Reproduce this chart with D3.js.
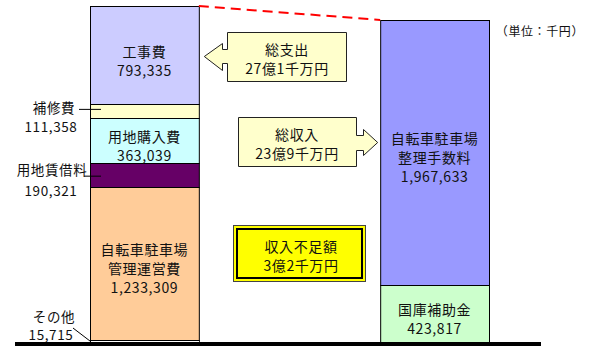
<!DOCTYPE html>
<html>
<head>
<meta charset="utf-8">
<script src="https://cdn.jsdelivr.net/npm/d3@7"></script>
<style>
body{margin:0;background:#fff}
svg{display:block;font-family:"Noto Sans CJK JP",sans-serif}
svg text{letter-spacing:0.6px}
</style>
</head>
<body>
<div id="chart"></div>
<script>
// 支出（左）と収入（右）, 単位: 千円, 下から順に積む
var spendCats = ['その他', '自転車駐車場\n管理運営費', '用地賃借料', '用地購入費', '補修費', '工事費']
var spendValues = [15715, 1233309, 190321, 363039, 111358, 793335]
var spendColors = ['#ffffff', '#ffcc99', '#660066', '#ccffff', '#ffffcc', '#ccccff']
var spendInside = [false, true, false, true, false, true]

var incomeCats = ['国庫補助金', '自転車駐車場\n整理手数料']
var incomeValues = [423817, 1967633]
var incomeColors = ['#ccffcc', '#9999ff']

var unitLabel = '（単位：千円）'

var W = 591, H = 346, base = 342
var svg = d3.select('#chart').append('svg').attr('width', W).attr('height', H)

var fmt = d3.format(',')
function okuText(v){
	// 千円 -> ○億○千万円
	var oku = Math.floor(v / 100000)
	var sen = Math.round((v % 100000) / 10000)
	return oku + '億' + sen + '千万円'
}

function stack(vals){
	var acc = 0
	return vals.map(function(v){ var d = {y0: acc, y1: acc + v}; acc += v; return d })
}

var spendTotal = d3.sum(spendValues), incomeTotal = d3.sum(incomeValues)
var ySpend = d3.scaleLinear().domain([0, spendTotal]).range([base, 6])
var yIncome = d3.scaleLinear().domain([0, incomeTotal]).range([base, 20])
var x = d3.scaleBand().domain(['spend', 'income']).range([90, 489]).paddingInner(0.625).paddingOuter(0)

function drawBar(key, cats, vals, colors, y){
	var st = stack(vals)
	var g = svg.append('g').attr('class', key)
	g.selectAll('rect').data(st).enter().append('rect')
		.attr('x', x(key) + 0.5)
		.attr('width', x.bandwidth())
		.attr('y', function(d){ return Math.round(y(d.y1)) + 0.5 })
		.attr('height', function(d){ return Math.round(y(d.y0)) - Math.round(y(d.y1)) })
		.attr('fill', function(d, i){ return colors[i] })
		.attr('stroke', '#000').attr('stroke-width', 1)
	return st
}

var sSt = drawBar('spend', spendCats, spendValues, spendColors, ySpend)
var iSt = drawBar('income', incomeCats, incomeValues, incomeColors, yIncome)

function insideLabel(cat, val, d, y, cx){
	var lines = cat.split('\n').concat([fmt(val)])
	var mid = (y(d.y0) + y(d.y1)) / 2 + 6
	var t = svg.append('text').attr('text-anchor', 'middle').attr('font-size', 14).attr('fill', '#111')
	lines.forEach(function(l, i){
		t.append('tspan').attr('x', cx).attr('y', mid + (i - (lines.length - 1) / 2) * 19).attr('dy', '0.35em').text(l)
	})
}

var cxS = x('spend') + x.bandwidth() / 2, cxI = x('income') + x.bandwidth() / 2
spendCats.forEach(function(c, i){
	if(spendInside[i]) insideLabel(c, spendValues[i], sSt[i], ySpend, cxS)
})
incomeCats.forEach(function(c, i){ insideLabel(c, incomeValues[i], iSt[i], yIncome, cxI) })

// 外側ラベル
spendCats.forEach(function(c, i){
	if(spendInside[i]) return
	var mid = (ySpend(sSt[i].y0) + ySpend(sSt[i].y1)) / 2
	var ly, vy
	if(i == 0){
		ly = mid - 24; vy = mid - 6
		svg.append('line').attr('x1', 73).attr('y1', mid - 13).attr('x2', x('spend')).attr('y2', mid)
			.attr('stroke', '#000')
	}else{
		ly = mid - 3; vy = mid + 16
		svg.append('line').attr('x1', i == 2 ? 84 : 79).attr('x2', 101).attr('y1', mid + (i == 2 ? 1 : -2)).attr('y2', mid + (i == 2 ? 1 : -2))
			.attr('stroke', '#000')
		if(i == 2) ly = mid - 5
	}
	svg.append('text').attr('x', i == 2 ? 52 : 54).attr('y', ly).attr('dy', '0.35em').attr('text-anchor', 'middle')
		.attr('font-size', 13.5).attr('fill', '#111').text(c)
	svg.append('text').attr('x', 51).attr('y', vy).attr('dy', '0.35em').attr('text-anchor', 'middle')
		.attr('font-size', 13.5).attr('fill', '#111').text(fmt(spendValues[i]))
})

// 赤い破線
svg.append('line')
	.attr('x1', x('spend') + x.bandwidth()).attr('y1', ySpend(spendTotal))
	.attr('x2', x('income')).attr('y2', yIncome(incomeTotal))
	.attr('stroke', '#ff0000').attr('stroke-width', 2).attr('stroke-dasharray', '10,6')

// 吹き出し（矢印）
var boxFill = '#ffffcc'
var tipL = x('spend') + x.bandwidth() + 5
var p1 = [[227,32],[346,32],[346,81],[227,81],[227,63],[222,63],[222,70],[tipL,56],[222,43],[222,49],[227,49]]
svg.append('path').attr('d', d3.line()(p1.map(function(p){ return [p[0] + 0.5, p[1] + 0.5] })) + 'Z')
	.attr('fill', boxFill).attr('stroke', '#222').attr('stroke-width', 1)
var tipR = x('income') - 3
var p2 = [[238,117],[356,117],[356,135],[363,135],[363,129],[tipR,142],[363,155],[363,150],[356,150],[356,166],[238,166]]
svg.append('path').attr('d', d3.line()(p2.map(function(p){ return [p[0] + 0.5, p[1] + 0.5] })) + 'Z')
	.attr('fill', boxFill).attr('stroke', '#222').attr('stroke-width', 1)

function twoLines(cx, y1, a, b){
	var t = svg.append('text').attr('text-anchor', 'middle').attr('font-size', 14).attr('fill', '#111')
	t.append('tspan').attr('x', cx).attr('y', y1).attr('dy', '0.35em').text(a)
	t.append('tspan').attr('x', cx).attr('y', y1 + 19).attr('dy', '0.35em').text(b)
}
twoLines(287, 50, '総支出', okuText(spendTotal))
twoLines(297, 135, '総収入', okuText(incomeTotal))

// 収入不足額
svg.append('rect').attr('x', 233.5).attr('y', 225.5).attr('width', 132).attr('height', 56)
	.attr('fill', '#ffff00').attr('stroke', '#444').attr('stroke-width', 1)
svg.append('rect').attr('x', 237).attr('y', 229).attr('width', 125).attr('height', 49)
	.attr('fill', 'none').attr('stroke', '#000').attr('stroke-width', 2)
twoLines(301, 247, '収入不足額', okuText(spendTotal - incomeTotal))

// 単位
svg.append('text').attr('x', 584).attr('y', 32).attr('dy', '0.35em').attr('text-anchor', 'end')
	.attr('font-size', 12).attr('fill', '#111').text(unitLabel)

// 基線
svg.append('rect').attr('x', 15).attr('y', base).attr('width', 526).attr('height', 4).attr('fill', '#000')
</script>
</body>
</html>
